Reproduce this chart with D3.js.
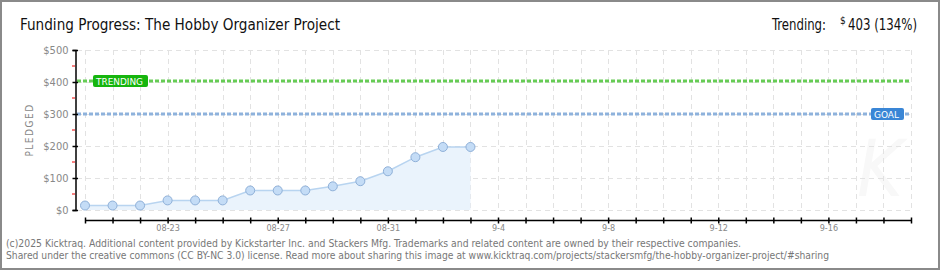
<!DOCTYPE html>
<html>
<head>
<meta charset="utf-8">
<script src="https://cdn.jsdelivr.net/npm/d3@7"></script>
<style>
  body { margin: 0; background: #fff; }
  text { font-family: 'DejaVu Sans Condensed', 'DejaVu Sans', sans-serif; }
</style>
</head>
<body>
<div id="chart"></div>
<script>
// data
let dates = [
  '2025-08-20', '2025-08-21', '2025-08-22', '2025-08-23', '2025-08-24',
  '2025-08-25', '2025-08-26', '2025-08-27', '2025-08-28', '2025-08-29',
  '2025-08-30', '2025-08-31', '2025-09-01', '2025-09-02', '2025-09-03'
]
let pledged = [14, 14, 14, 30, 30, 30, 61, 61, 61, 74, 90, 121, 165, 197, 197]
let goal = 300
let trending = 403
let trendingPct = 134
let yTicks = [0, 100, 200, 300, 400, 500]
let xStart = '2025-08-20'
let xEnd = '2025-09-19'
let xLabels = { '2025-08-23': '08-23', '2025-08-27': '08-27', '2025-08-31': '08-31', '2025-09-04': '9-4', '2025-09-08': '9-8', '2025-09-12': '9-12', '2025-09-16': '9-16' }

let width = 940
let height = 270
let parse = d3.utcParse('%Y-%m-%d')
let fmt = d3.utcFormat('%Y-%m-%d')

let svg = d3
  .select('#chart')
  .append('svg')
  .attr('width', width)
  .attr('height', height)

svg.append('rect')
  .attr('x', 1).attr('y', 1)
  .attr('width', width - 2).attr('height', height - 2)
  .attr('fill', '#fff')
  .attr('stroke', '#8a8a8a')
  .attr('stroke-width', 2)

let x = d3.scaleUtc().domain([parse(xStart), parse(xEnd)]).range([85, 911])
let y = d3.scaleLinear().domain([0, 500]).range([210, 50])

let days = d3.utcDay.range(parse(xStart), d3.utcDay.offset(parse(xEnd), 1))

// watermark
svg.append('text')
  .attr('x', 880).attr('y', 196)
  .attr('text-anchor', 'middle')
  .attr('font-size', 78)
  .attr('font-style', 'italic')
  .attr('fill', '#f8f8f8')
  .text('K')

// grid
svg.append('g')
  .selectAll('line')
  .data(yTicks)
  .enter()
  .append('line')
  .attr('x1', 77).attr('x2', 911)
  .attr('y1', d => y(d) + 0.5).attr('y2', d => y(d) + 0.5)
  .attr('stroke', '#e2e2e2')
  .attr('stroke-dasharray', '5,4')

svg.append('g')
  .selectAll('line')
  .data(days)
  .enter()
  .append('line')
  .attr('x1', d => Math.round(x(d)) + 0.5).attr('x2', d => Math.round(x(d)) + 0.5)
  .attr('y1', y(500)).attr('y2', y(0))
  .attr('stroke', '#e2e2e2')
  .attr('stroke-dasharray', '5,4')

// area + line
let points = dates.map((d, i) => ({ date: parse(d), value: pledged[i] }))

svg.append('path')
  .datum(points)
  .attr('d', d3.area().x(d => x(d.date)).y0(y(0)).y1(d => y(d.value)))
  .attr('fill', '#eaf3fc')

svg.append('path')
  .datum(points)
  .attr('d', d3.line().x(d => x(d.date)).y(d => y(d.value)))
  .attr('fill', 'none')
  .attr('stroke', '#b8d4f0')
  .attr('stroke-width', 1.5)

// goal + trending lines
svg.append('line')
  .attr('x1', 77).attr('x2', 911)
  .attr('y1', y(trending)).attr('y2', y(trending))
  .attr('stroke', '#66cc55')
  .attr('stroke-width', 3)
  .attr('stroke-dasharray', '4,2')

svg.append('line')
  .attr('x1', 77).attr('x2', 911)
  .attr('y1', y(goal)).attr('y2', y(goal))
  .attr('stroke', '#8eb2dc')
  .attr('stroke-width', 3)
  .attr('stroke-dasharray', '4,2')

function tag(label, cx, cy, w, fill) {
  let g = svg.append('g')
  g.append('rect')
    .attr('x', cx).attr('y', cy - 6)
    .attr('width', w).attr('height', 12)
    .attr('rx', 2)
    .attr('fill', fill)
  g.append('text')
    .attr('x', cx + 3).attr('y', cy + 3.5)
    .attr('font-size', 9.5)
    .attr('textLength', w - 8)
    .attr('lengthAdjust', 'spacingAndGlyphs')
    .attr('fill', '#fff')
    .text(label)
}
tag('TRENDING', 93, y(trending), 55, '#16b50e')
tag('GOAL', 871, y(goal), 33, '#3a86d6')

// points
svg.append('g')
  .selectAll('circle')
  .data(points)
  .enter()
  .append('circle')
  .attr('cx', d => x(d.date))
  .attr('cy', d => y(d.value))
  .attr('r', 4.5)
  .attr('fill', '#c4dcf6')
  .attr('stroke', '#8fb0d8')
  .attr('stroke-width', 1)

// y axis
let yAxis = svg.append('g')
  .attr('transform', 'translate(75.5,0)')
  .call(d3.axisLeft(y).tickValues(yTicks).tickSize(3).tickFormat(d => '$' + d))
yAxis.select('.domain').attr('stroke', '#000').attr('stroke-width', 1.5)
yAxis.selectAll('.tick line').attr('x2', 2.5).attr('x1', -3).attr('stroke', '#000').attr('stroke-width', 1.5)
yAxis.selectAll('.tick text')
  .attr('x', -7)
  .attr('font-size', 11)
  .attr('fill', '#888')

svg.append('g')
  .selectAll('line')
  .data([50, 150, 250, 350, 450])
  .enter()
  .append('line')
  .attr('x1', 72).attr('x2', 75)
  .attr('y1', d => y(d)).attr('y2', d => y(d))
  .attr('stroke', '#e00')
  .attr('stroke-width', 1)

svg.append('text')
  .attr('transform', 'translate(33,130) rotate(-90)')
  .attr('text-anchor', 'middle')
  .attr('font-size', 10)
  .attr('letter-spacing', 1.5)
  .attr('fill', '#888')
  .text('PLEDGED')

// x axis
let xAxis = svg.append('g')
  .attr('transform', 'translate(0,220.5)')
  .call(d3.axisBottom(x).tickValues(days).tickSize(3).tickFormat(d => xLabels[fmt(d)] || ''))
xAxis.select('.domain').attr('stroke', '#000').attr('stroke-width', 1.5).attr('d', 'M85,0H911')
xAxis.selectAll('.tick line').attr('y1', -3).attr('y2', 3).attr('stroke', '#000').attr('stroke-width', 1.5)
xAxis.selectAll('.tick text')
  .attr('y', 4)
  .attr('font-size', 9)
  .attr('fill', '#888')

// titles
svg.append('text')
  .attr('x', 20).attr('y', 30)
  .attr('font-size', 16)
  .attr('textLength', 320)
  .attr('lengthAdjust', 'spacingAndGlyphs')
  .attr('fill', '#111')
  .text('Funding Progress: The Hobby Organizer Project')

svg.append('text')
  .attr('x', 772).attr('y', 30)
  .attr('font-size', 16)
  .attr('textLength', 54)
  .attr('lengthAdjust', 'spacingAndGlyphs')
  .attr('fill', '#111')
  .text('Trending:')

svg.append('text')
  .attr('x', 840).attr('y', 24)
  .attr('font-size', 10)
  .attr('fill', '#111')
  .text('$')

svg.append('text')
  .attr('x', 917).attr('y', 30)
  .attr('text-anchor', 'end')
  .attr('font-size', 16)
  .attr('textLength', 69)
  .attr('lengthAdjust', 'spacingAndGlyphs')
  .attr('fill', '#111')
  .text(trending + ' (' + trendingPct + '%)')

// footer
svg.append('text')
  .attr('x', 6).attr('y', 247)
  .attr('font-size', 10)
  .attr('textLength', 735)
  .attr('lengthAdjust', 'spacingAndGlyphs')
  .attr('fill', '#777')
  .text('(c)2025 Kicktraq. Additional content provided by Kickstarter Inc. and Stackers Mfg. Trademarks and related content are owned by their respective companies.')

svg.append('text')
  .attr('x', 6).attr('y', 259)
  .attr('font-size', 10)
  .attr('textLength', 823)
  .attr('lengthAdjust', 'spacingAndGlyphs')
  .attr('fill', '#777')
  .text('Shared under the creative commons (CC BY-NC 3.0) license. Read more about sharing this image at www.kicktraq.com/projects/stackersmfg/the-hobby-organizer-project/#sharing')
</script>
</body>
</html>
